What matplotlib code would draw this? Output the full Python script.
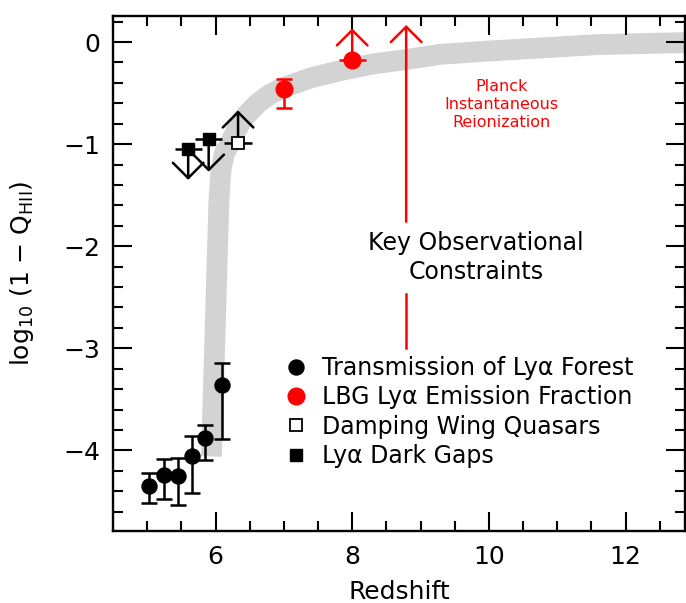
import matplotlib
matplotlib.use('Agg')
import matplotlib.pyplot as plt
from matplotlib.lines import Line2D
from matplotlib.ticker import MultipleLocator

# ---- data ----
# gray model band
band_z = [5.94, 5.99, 6.05, 6.08, 6.13, 6.21, 6.30, 6.39, 6.50, 6.62, 6.80, 7.02, 7.40, 7.86, 8.30, 8.74, 9.30, 10.0, 11.6, 13.0]
band_y = [-4.06, -2.92, -1.55, -1.25, -1.09, -1.00, -0.87, -0.76, -0.68, -0.60, -0.51, -0.44, -0.35, -0.275, -0.215, -0.176, -0.12, -0.088, -0.025, -0.004]

# Transmission of Lya forest
tr_z = [5.03, 5.25, 5.45, 5.65, 5.85, 6.10]
tr_y = [-4.35, -4.24, -4.25, -4.06, -3.88, -3.36]
tr_up = [0.13, 0.16, 0.18, 0.20, 0.13, 0.22]
tr_lo = [0.17, 0.24, 0.29, 0.36, 0.21, 0.53]

# LBG Lya emission fraction
lbg_z = [7.0]
lbg_y = [-0.46]
lbg_up = [0.094]
lbg_lo = [0.19]
lbg_lim_z = [8.0]
lbg_lim_y = [-0.18]
lbg_lim_xerr = [0.2]
lbg_lim_top = [0.134]

# Damping wing quasars (lower limit)
dw_z = [6.33]
dw_y = [-0.99]
dw_xerr = [0.2]
dw_top = [-0.67]

# Lya dark gaps (upper limits)
dg_z = [5.6, 5.9]
dg_y = [-1.05, -0.95]
dg_xerr = [0.2, 0.2]
dg_bot = [-1.35, -1.27]

# Planck instantaneous reionization
planck_z = 8.79
planck_y0 = -3.0
planck_y1 = 0.167

legend_labels = ['Transmission of Ly\u03b1 Forest', 'LBG Ly\u03b1 Emission Fraction',
                 'Damping Wing Quasars', 'Ly\u03b1 Dark Gaps']

RED = '#ff0000'
LW = 1.8

fig = plt.figure(figsize=(6.86, 6.03), dpi=100)
ax = fig.add_axes([113/686, 1 - 531/603, (685-113)/686, (531-16)/603])
ax.set_xlim(4.5, 12.87)
ax.set_ylim(-4.79, 0.255)

# band
ax.plot(band_z, band_y, color='#d3d3d3', lw=15, solid_capstyle='butt',
        solid_joinstyle='round', zorder=1)

def arrow(x, y0, y1, color, lw=LW):
    ax.annotate('', xy=(x, y1), xytext=(x, y0),
                arrowprops=dict(arrowstyle='->,head_length=0.55,head_width=0.55',
                                color=color, lw=lw, shrinkA=0, shrinkB=0,
                                mutation_scale=20), zorder=4)

# black points
ax.errorbar(tr_z, tr_y, yerr=[tr_lo, tr_up], fmt='o', color='black', ms=10.8,
            elinewidth=LW, capsize=5.5, capthick=LW, zorder=5)

# red points
ax.errorbar(lbg_z, lbg_y, yerr=[lbg_lo, lbg_up], fmt='o', color=RED, ms=12,
            elinewidth=LW, capsize=6, capthick=LW, zorder=5)
ax.errorbar(lbg_lim_z, lbg_lim_y, xerr=lbg_lim_xerr, fmt='o', color=RED, ms=12,
            elinewidth=LW, capsize=0, zorder=5)
for x, y0, y1 in zip(lbg_lim_z, lbg_lim_y, lbg_lim_top):
    arrow(x, y0, y1, RED)

# damping wing
ax.errorbar(dw_z, dw_y, xerr=dw_xerr, fmt='s', mfc='white', mec='black', mew=1.3,
            ms=8, color='black', elinewidth=LW, capsize=0, zorder=5)
for x, y0, y1 in zip(dw_z, dw_y, dw_top):
    arrow(x, y0, y1, 'black')

# dark gaps
ax.errorbar(dg_z, dg_y, xerr=dg_xerr, fmt='s', color='black', ms=8,
            elinewidth=LW, capsize=0, zorder=5)
for x, y0, y1 in zip(dg_z, dg_y, dg_bot):
    arrow(x, y0, y1, 'black')

# Planck arrow with gap for text
ax.plot([planck_z, planck_z], [planck_y0, -2.47], color=RED, lw=LW, zorder=3)
arrow(planck_z, -1.76, planck_y1, RED)

ax.text(10.19, -0.608, 'Planck\nInstantaneous\nReionization', color=RED,
        fontsize=11.5, ha='center', va='center', linespacing=1.25)
ax.text(9.81, -2.11, 'Key Observational\nConstraints', color='black',
        fontsize=17, ha='center', va='center', linespacing=1.28)

# legend
handles = [
    Line2D([], [], ls='none', marker='o', color='black', ms=10.8),
    Line2D([], [], ls='none', marker='o', color=RED, ms=12),
    Line2D([], [], ls='none', marker='s', mfc='white', mec='black', mew=1.3, ms=8.5),
    Line2D([], [], ls='none', marker='s', color='black', ms=8.5),
]
ax.legend(handles, legend_labels, loc='upper left', bbox_to_anchor=(0.3035, 0.34),
          frameon=False, fontsize=17, handlelength=0.8, handletextpad=0.7,
          labelspacing=0.23, borderpad=0, borderaxespad=0)

# axes styling
for s in ax.spines.values():
    s.set_linewidth(1.7)
ax.xaxis.set_major_locator(MultipleLocator(2))
ax.xaxis.set_minor_locator(MultipleLocator(0.5))
ax.yaxis.set_major_locator(MultipleLocator(1))
ax.yaxis.set_minor_locator(MultipleLocator(0.2))
ax.tick_params(which='both', direction='in', top=True, right=True, width=1.5)
ax.tick_params(which='major', length=13.5, labelsize=18)
ax.tick_params(which='minor', length=7)
ax.tick_params(axis='y', pad=9)
ax.tick_params(axis='x', pad=10)
ax.set_xticks([6, 8, 10, 12])
ax.set_yticks([0, -1, -2, -3, -4])
ax.set_yticklabels(['0', '\u22121', '\u22122', '\u22123', '\u22124'])

ax.set_xlabel('Redshift', fontsize=18, labelpad=8)
ax.set_ylabel(r'log$_{10}$ (1 $-$ Q$_{\rm HII}$)', fontsize=18, labelpad=20)

fig.savefig('out.png', dpi=100)
